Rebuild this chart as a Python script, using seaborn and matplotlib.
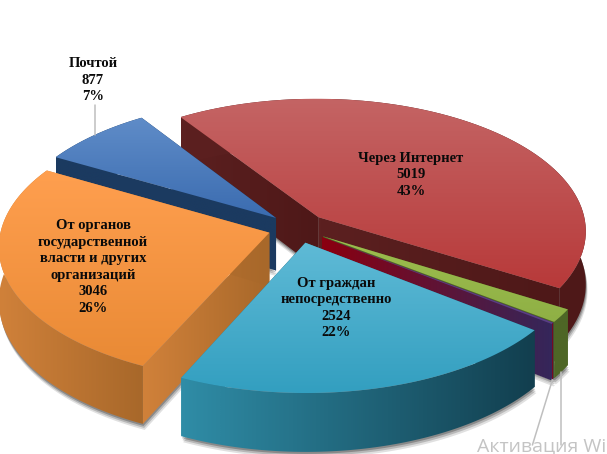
import numpy as np
import matplotlib.pyplot as plt
import seaborn as sns
from matplotlib.patches import Polygon

# Slices in clockwise order, starting from the internet one
names = ["Через Интернет", "", "", "От граждан\nнепосредственно",
         "От органов\nгосударственной\nвласти и других\nорганизаций", "Почтой"]
values = [5019, 185, 20, 2524, 3046, 877]
percents = [43, None, None, 22, 26, 7]

top_colors = [("#C46464", "#B83A3A"), ("#9DBD4E", "#8FB045"), ("#5A3F85", "#5A3F85"),
              ("#5FBAD6", "#339FC0"), ("#FF9F4F", "#E98A35"), ("#5F8CC8", "#3B6CB0")]
wall_colors = [("#5C2020", "#4E1818"), ("#4E6626", "#4E6626"), ("#8A0010", "#35265A"),
               ("#2F8CA6", "#123F4F"), ("#D0813A", "#A8682A"), ("#1B3A60", "#1B3A60")]

# Label placement in pixels
label_pos = [(411, 175), None, None, (336, 308), (93, 267), (93, 80)]

W, H = 607, 454
cx, cy = 298, 228
radius = 268
tilt = 0.5
persp = 0.10
explode = 30
depth = 53
start_angle = 124

sns.set_theme(style="white")
plt.rcParams['font.family'] = ['Liberation Serif', 'DejaVu Serif']

fig = plt.figure(figsize=(W / 100, H / 100), dpi=100, facecolor="white")
ax = fig.add_axes([0, 0, 1, 1])
ax.set_axis_off()


def project(x, y, z=0.0):
    s = 1 - persp * y / radius
    return np.column_stack([cx + x * s, cy - y * tilt * s + z * s])


def grad_fill(points, colors, vertical, zorder):
    # gradient across the bbox of the polygon, clipped to its outline
    xs, ys = points[:, 0], points[:, 1]
    cmap = sns.blend_palette(list(colors), 64, as_cmap=True)
    ramp = np.linspace(0, 1, 64)
    img = ramp[:, None] if vertical else ramp[None, :]
    im = ax.imshow(img, cmap=cmap, vmin=0, vmax=1, aspect="auto", zorder=zorder,
                   extent=[xs.min(), xs.max() + 0.01, ys.max() + 0.01, ys.min()],
                   interpolation="bilinear")
    patch = Polygon(points, closed=True, transform=ax.transData, facecolor="none", edgecolor="none")
    ax.add_patch(patch)
    im.set_clip_path(patch)


total = sum(values)
angle = start_angle
order = [0, 5, 4, 1, 2, 3]  # back to front
slices = []
for v in values:
    sweep = 360 * v / total
    slices.append((angle, angle - sweep))
    angle -= sweep

rim_mid = {}
z = 2
for i in order:
    a0, a1 = slices[i]
    mid = np.radians((a0 + a1) / 2)
    ox, oy = explode * np.cos(mid), explode * np.sin(mid)
    t = np.radians(np.linspace(a0, a1, 80))
    arc_x = ox + radius * np.cos(t)
    arc_y = oy + radius * np.sin(t)

    top_arc = project(arc_x, arc_y)
    low_arc = project(arc_x, arc_y, depth)
    apex_top = project(np.array([ox]), np.array([oy]))
    apex_low = project(np.array([ox]), np.array([oy]), depth)

    # soft shadow under the walls
    outline = np.vstack([apex_low, low_arc])
    for off, alpha in [(6, 0.12), (4, 0.18), (2, 0.25)]:
        ax.add_patch(Polygon(outline + [off * 0.3, off], closed=True, facecolor="#000000",
                             edgecolor="none", alpha=alpha, zorder=z))
    z += 1

    # the two cut walls, then the rim, then the top
    wall_a = np.vstack([apex_top, top_arc[:1], low_arc[:1], apex_low])
    wall_b = np.vstack([apex_top, top_arc[-1:], low_arc[-1:], apex_low])
    rim = np.vstack([top_arc, low_arc[::-1]])
    for wall in (wall_a, wall_b, rim):
        grad_fill(wall, wall_colors[i], False, z)
        z += 1
    grad_fill(np.vstack([apex_top, top_arc]), top_colors[i], True, z)
    z += 1

    mid_x = ox + radius * np.cos(mid) * np.ones(1)
    mid_y = oy + radius * np.sin(mid) * np.ones(1)
    rim_mid[i] = project(mid_x, mid_y)[0]
    rim_mid[(i, "low")] = project(mid_x, mid_y, depth)[0]

# Leader lines
leader = "#BFBFBF"
blue = rim_mid[5]
ax.plot([blue[0], blue[0]], [blue[1], 105], color=leader, lw=1.1, zorder=z)
green = rim_mid[(1, "low")]
ax.plot([green[0], green[0]], [green[1], 445], color=leader, lw=1.1, zorder=z)
purple = rim_mid[(2, "low")]
ax.plot([purple[0], purple[0] - 20], [purple[1], 445], color=leader, lw=1.1, zorder=z)
z += 1

for name, val, pct, pos in zip(names, values, percents, label_pos):
    if pos is None:
        continue
    ax.text(pos[0], pos[1], f"{name}\n{val}\n{pct}%", ha="center", va="center", fontsize=10.5,
            fontweight="bold", color="#0A0A0A", linespacing=1.35, zorder=z)

ax.text(477, 446, "Активация Wi", fontsize=14, color="#C4C4C4", va="center", ha="left",
        family=["Open Sans", "DejaVu Sans"], zorder=z)

ax.set_xlim(0, W)
ax.set_ylim(H, 0)
fig.savefig("out.png", dpi=100, facecolor="white")
